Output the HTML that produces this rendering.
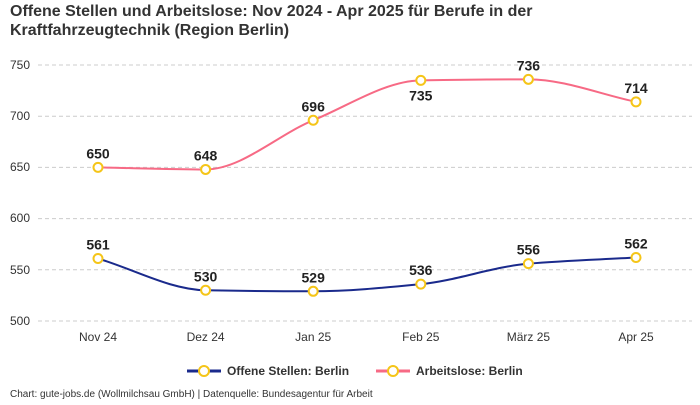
<!DOCTYPE html>
<html><head><meta charset="utf-8"><style>
body{margin:0;background:#fff;font-family:"Liberation Sans",sans-serif}
</style></head><body>
<svg id="s" width="700" height="400" xmlns="http://www.w3.org/2000/svg" font-family="Liberation Sans, sans-serif">
<text x="10" y="16" font-size="16" font-weight="bold" fill="#333">Offene Stellen und Arbeitslose: Nov 2024 - Apr 2025 für Berufe in der</text>
<text x="10" y="35" font-size="16" font-weight="bold" fill="#333">Kraftfahrzeugtechnik (Region Berlin)</text>
<g stroke="#ccc" stroke-dasharray="4,3" stroke-width="1">
<line x1="38" x2="692" y1="65" y2="65"/><line x1="38" x2="692" y1="116.2" y2="116.2"/><line x1="38" x2="692" y1="167.4" y2="167.4"/><line x1="38" x2="692" y1="218.6" y2="218.6"/><line x1="38" x2="692" y1="269.8" y2="269.8"/><line x1="38" x2="692" y1="321" y2="321"/>
</g>
<g font-size="12" fill="#333">
<text x="10" y="69">750</text><text x="10" y="120">700</text><text x="10" y="171">650</text><text x="10" y="222">600</text><text x="10" y="274">550</text><text x="10" y="325">500</text>
</g>
<g font-size="12" fill="#333" text-anchor="middle">
<text x="98" y="341">Nov 24</text><text x="205.6" y="341">Dez 24</text><text x="313.2" y="341">Jan 25</text><text x="420.8" y="341">Feb 25</text><text x="528.4" y="341">März 25</text><text x="636" y="341">Apr 25</text>
</g>
<g id="series"></g>
<g font-size="12" font-weight="bold" fill="#333">
<line x1="187" x2="221" y1="371" y2="371" stroke="#1a2a8c" stroke-width="3"/>
<circle cx="204" cy="371" r="5" fill="#fff" stroke="#f5c518" stroke-width="2"/>
<text x="227" y="375">Offene Stellen: Berlin</text>
<line x1="376" x2="410" y1="371" y2="371" stroke="#f76a85" stroke-width="3"/>
<circle cx="393" cy="371" r="5" fill="#fff" stroke="#f5c518" stroke-width="2"/>
<text x="416" y="375">Arbeitslose: Berlin</text>
</g>
<text x="10" y="397" font-size="10" fill="#333">Chart: gute-jobs.de (Wollmilchsau GmbH) | Datenquelle: Bundesagentur für Arbeit</text>
</svg>
<script>
var xs=[98,205.6,313.2,420.8,528.4,636];
function y(v){return 321-(v-500)*1.024}
function mono(pts){var n=pts.length,d=[],m=[];for(var i=0;i<n-1;i++)d.push((pts[i+1][1]-pts[i][1])/(pts[i+1][0]-pts[i][0]));
m[0]=d[0];m[n-1]=d[n-2];for(i=1;i<n-1;i++){m[i]=(d[i-1]*d[i]<=0)?0:(2*d[i-1]*d[i])/(d[i-1]+d[i]);}
var p="M"+pts[0][0]+","+pts[0][1];for(i=0;i<n-1;i++){var h=(pts[i+1][0]-pts[i][0])/3;p+=" C"+(pts[i][0]+h)+","+(pts[i][1]+m[i]*h)+" "+(pts[i+1][0]-h)+","+(pts[i+1][1]-m[i+1]*h)+" "+pts[i+1][0]+","+pts[i+1][1];}return p;}
var g=document.getElementById("series"),out="";
[[[561,530,529,536,556,562],"#1a2a8c",[]],[[650,648,696,735,736,714],"#f76a85",[3]]].forEach(function(s){
var pts=s[0].map(function(v,i){return [xs[i],y(v)]});
out+='<path d="'+mono(pts)+'" fill="none" stroke="'+s[1]+'" stroke-width="2"/>';
pts.forEach(function(p,i){out+='<circle cx="'+p[0]+'" cy="'+p[1]+'" r="4.5" fill="#fff" stroke="#f5c518" stroke-width="2"/>';
var ty=s[2].indexOf(i)>=0?p[1]+20:p[1]-9;
out+='<text x="'+p[0]+'" y="'+ty+'" text-anchor="middle" font-size="14" font-weight="bold" fill="#222">'+s[0][i]+'</text>';});
});
g.innerHTML=out;
</script>
</body></html>
